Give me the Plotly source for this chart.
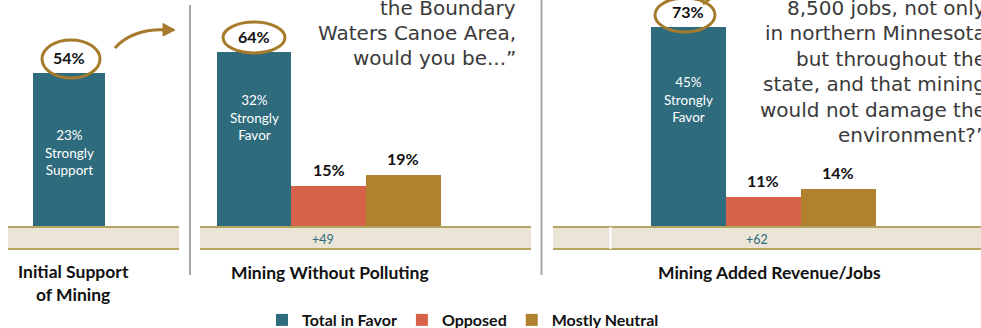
import plotly.graph_objects as go

W, H = 981, 328

# ---------------- data ----------------
categories = ["Total in Favor", "Opposed", "Mostly Neutral"]
panel_titles = ["Initial Support<br>of Mining", "Mining Without Polluting", "Mining Added Revenue/Jobs"]
initial_support = [54]
without_polluting = [64, 15, 19]
added_revenue_jobs = [73, 11, 14]
strongly_pct = [23, 32, 45]
strongly_words = ["Support", "Favor", "Favor"]
question_2 = ["the Boundary", "Waters Canoe Area,", "would you be...\u201d"]
question_3 = ["8,500 jobs, not only", "in northern Minnesota", "but throughout the",
              "state, and that mining", "would not damage the", "environment?\u201d"]

panels = [initial_support, without_polluting, added_revenue_jobs]

# ---------------- styles ----------------
colors = ["#2E6B7D", "#D6624A", "#B0822F"]
gold = "#A67B2B"
FONT = "Lato"
QFONT = "DejaVu Sans"

# pixel geometry of each panel
geom = [
    dict(left=8, right=179, bar_left=33, unit=72, top=79.5, title_x=73, inner_shift=-80),
    dict(left=200, right=531, bar_left=216.7, unit=74.67, top=82.8, title_x=330, inner_shift=-66),
    dict(left=553, right=981, bar_left=650.7, unit=75, top=82.8, title_x=769, inner_shift=-73),
]
BASE = 227
STRIP_BOTTOM = 249


def px(x):
    return x / W


def py(y):
    return 1 - y / H


fig = go.Figure()
layout = {}
annotations = []
shapes = []

for i, (vals, g) in enumerate(zip(panels, geom)):
    n = "" if i == 0 else str(i + 1)
    xa, ya = "x" + n, "y" + n
    for j, v in enumerate(vals):
        fig.add_trace(go.Bar(
            x=[categories[j]], y=[v], name=categories[j], legendgroup=categories[j],
            marker=dict(color=colors[j], line=dict(width=0)),
            showlegend=(i == 1), xaxis=xa, yaxis=ya, hoverinfo="skip",
        ))
        annotations.append(dict(
            x=categories[j], y=v, xref=xa, yref=ya, text=f"<b>{v}%</b>",
            showarrow=False, yanchor="middle", yshift=15 if j == 0 else 16,
            font=dict(family=FONT, size=16, color="#111111"),
        ))
    # inside label
    annotations.append(dict(
        x=categories[0], y=vals[0], xref=xa, yref=ya,
        text=f"{strongly_pct[i]}%<br>Strongly<br>{strongly_words[i]}",
        showarrow=False, yanchor="middle", yshift=g["inner_shift"],
        font=dict(family=FONT, size=13.5, color="white"),
    ))
    # net label
    if len(vals) > 1:
        annotations.append(dict(
            x=categories[1], y=0, xref=xa, yref=ya, text=f"+{vals[0] - vals[1]}",
            showarrow=False, yanchor="middle", yshift=-12, xshift=-6,
            font=dict(family=FONT, size=12.5, color="#2E6B7D"),
        ))
    # axes
    lo = -0.5 - (g["bar_left"] - g["left"]) / g["unit"]
    hi = -0.5 + (g["right"] - g["bar_left"]) / g["unit"]
    layout["xaxis" + n] = dict(domain=[px(g["left"]), px(g["right"])], range=[lo, hi],
                               type="category", categoryorder="array", categoryarray=categories,
                               visible=False, fixedrange=True, anchor=ya)
    layout["yaxis" + n] = dict(domain=[py(BASE), 1], range=[0, g["top"]], visible=False,
                               fixedrange=True, anchor=xa)
    # beige strip
    shapes.append(dict(type="rect", xref="paper", yref="paper", x0=px(g["left"]), x1=px(g["right"]),
                       y0=py(STRIP_BOTTOM), y1=py(BASE), fillcolor="#EAE5D6", line=dict(width=0), layer="below"))
    for yy in (BASE, STRIP_BOTTOM):
        shapes.append(dict(type="line", xref="paper", yref="paper", x0=px(g["left"]), x1=px(g["right"]),
                           y0=py(yy), y1=py(yy), line=dict(color="#B3A45F", width=2)))
    # panel title
    annotations.append(dict(
        x=px(g["title_x"]), y=py(282.5 if i == 0 else 272), xref="paper", yref="paper",
        text=f"<b>{panel_titles[i]}</b>", showarrow=False, xanchor="center", yanchor="middle",
        font=dict(family=FONT, size=17.5, color="#111111"),
    ))

# white separator inside the 3rd strip
shapes.append(dict(type="line", xref="paper", yref="paper", x0=px(610.5), x1=px(610.5),
                   y0=py(STRIP_BOTTOM), y1=py(BASE), line=dict(color="white", width=2)))

# vertical dividers
for xx, y0 in ((190, 5), (541.5, 0)):
    shapes.append(dict(type="line", xref="paper", yref="paper", x0=px(xx), x1=px(xx),
                       y0=py(275), y1=py(y0), line=dict(color="#A6A6A6", width=2)))

# hand-drawn circles
for cx, cy, rx, ry in ((71, 59, 29, 19), (254, 37.5, 31, 15.5), (685, 15, 30, 17)):
    shapes.append(dict(type="circle", xref="paper", yref="paper",
                       x0=px(cx - rx), x1=px(cx + rx), y0=py(cy + ry), y1=py(cy - ry),
                       line=dict(color=gold, width=3)))


def P(x, y):
    return f"{px(x):.5f},{py(y):.5f}"


# curved arrow from panel 1 to panel 2
shapes.append(dict(type="path", xref="paper", yref="paper",
                   path=f"M{P(115, 48)} C{P(125, 36)} {P(145, 28)} {P(167, 30)}",
                   line=dict(color=gold, width=3)))
shapes.append(dict(type="path", xref="paper", yref="paper",
                   path=f"M{P(163, 23.5)} L{P(175, 30)} L{P(163, 36)} Z",
                   fillcolor=gold, line=dict(color=gold, width=1)))
# small tail of the loop around 73%
shapes.append(dict(type="path", xref="paper", yref="paper",
                   path=f"M{P(703, 4)} L{P(711, -2)}",
                   line=dict(color=gold, width=3)))

# question text fragments (one annotation per line)
for k, line in enumerate(question_2):
    annotations.append(dict(x=px(518), y=py(8 + 25 * k), xref="paper", yref="paper",
                            text=line, showarrow=False, xanchor="right", yanchor="middle",
                            font=dict(family=QFONT, size=20, color="#3A3A3A")))
for k, line in enumerate(question_3):
    annotations.append(dict(x=px(988), y=py(8 + 25.4 * k), xref="paper", yref="paper",
                            text=line, showarrow=False, xanchor="right", yanchor="middle",
                            font=dict(family=QFONT, size=20, color="#3A3A3A")))

fig.update_layout(
    **layout,
    width=W, height=H, margin=dict(l=0, r=0, t=0, b=0, autoexpand=False),
    paper_bgcolor="white", plot_bgcolor="white",
    barmode="overlay", bargap=0,
    annotations=annotations, shapes=shapes,
    showlegend=True,
    legend=dict(orientation="h", x=px(463), xanchor="center", y=py(320), yanchor="middle",
                font=dict(family=FONT, size=16, color="#111111", weight="bold"), itemwidth=30,
                bgcolor="rgba(0,0,0,0)", traceorder="normal"),
    font=dict(family=FONT),
)

fig.write_html("out.html")
